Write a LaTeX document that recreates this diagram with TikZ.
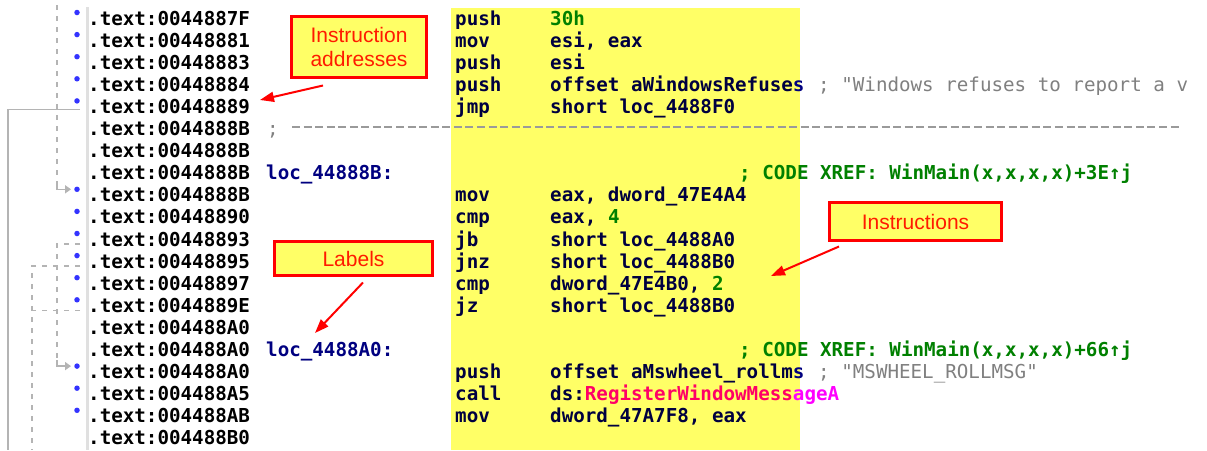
\documentclass[tikz,border=0pt]{standalone}
\usepackage{fontspec}
\setmainfont{Liberation Sans}
\setmonofont{DejaVu Sans Mono}
\usetikzlibrary{arrows.meta}
\definecolor{hl}{HTML}{FFFF66}
\definecolor{navy}{HTML}{000080}
\definecolor{navyd}{HTML}{000040}
\definecolor{idagreen}{HTML}{008000}
\definecolor{idagray}{HTML}{808080}
\definecolor{bulletc}{HTML}{3333FF}
\definecolor{linec}{HTML}{B4B4B4}
\definecolor{sepc}{HTML}{E0E0E0}
\definecolor{magin}{HTML}{FF0066}
\definecolor{magout}{HTML}{FF00FF}
\definecolor{calltext}{HTML}{FF1A00}
\definecolor{sepdash}{HTML}{9A9A9A}
\begin{document}
\begin{tikzpicture}[x=1pt,y=-1pt,
  code/.style={anchor=base west,inner sep=0pt,font=\ttfamily\bfseries\fontsize{19.2}{22}\selectfont},
  addr/.style={code,text=black},
  lbl/.style={code,text=navy},
  ins/.style={code,text=navyd},
  xref/.style={code,text=idagreen},
  strc/.style={code,text=idagray,font=\ttfamily\fontsize{19.2}{22}\selectfont},
  dot/.style={circle,fill=bulletc,inner sep=0pt,minimum size=5.5pt},
  jline/.style={linec,line width=1.6pt},
  jdash/.style={jline,dash pattern=on 5pt off 6pt},
  jtip/.style={-{Triangle[length=6pt,width=8pt]}},
  callout/.style={draw=red,line width=3pt,fill=hl,text=calltext,inner sep=0pt,align=center,font=\fontsize{21}{24}\selectfont},
  pointer/.style={red,line width=2pt,-{Triangle[length=14pt,width=10pt]}}
]
\useasboundingbox (0,0) rectangle (1207,450);
% highlight band
\fill[hl] (451,8) rectangle (800,450);
% separator
\draw[sepc,line width=3pt] (87.5,7) -- (87.5,450);

% bullets
\node[dot] (d1) at (77,12.5) {};
\node[dot] (d2) at (77,34.6) {};
\node[dot] (d3) at (77,56.7) {};
\node[dot] (d4) at (77,78.8) {};
\node[dot] (d5) at (77,100.9) {};
\node[dot] (d9) at (77,189.3) {};
\node[dot] (d10) at (77,211.4) {};
\node[dot] (d11) at (77,233.5) {};
\node[dot] (d12) at (77,255.6) {};
\node[dot] (d13) at (77,277.7) {};
\node[dot] (d14) at (77,299.8) {};
\node[dot] (d17) at (77,366.1) {};
\node[dot] (d18) at (77,388.2) {};
\node[dot] (d19) at (77,410.3) {};

% jump arrows in the margin
\coordinate (j5) at (80,109.4);
\coordinate (j5c) at (8,109.4);
\coordinate (j5e) at (8,450);
\draw[jline] (j5) -- (j5c) -- (j5e);

\coordinate (t9) at (57,5);
\coordinate (t9b) at (57,184);
\coordinate (t9c) at (57,189.3);
\draw[jdash] (t9) -- (t9b);
\draw[jline,jtip] (t9b) -- (t9c) -- ([xshift=-3pt]d9.west);

\coordinate (j11) at (80,244);
\coordinate (j11c) at (57,244);
\coordinate (j11b) at (57,360);
\coordinate (j11d) at (57,366.1);
\draw[jdash] (j11) -- (j11c) -- (j11b);
\draw[jline,jtip] (j11b) -- (j11d) -- ([xshift=-3pt]d17.west);

\coordinate (j12) at (80,266);
\coordinate (j12c) at (32,266);
\coordinate (j12e) at (32,450);
\draw[jdash] (j12) -- (j12c) -- (j12e);

\coordinate (j14) at (80,310.3);
\coordinate (j14c) at (32,310.3);
\draw[jdash] (j14) -- (j14c);

% addresses
\node[addr] (a1) at (88,25.0) {.text:0044887F};
\node[addr] (a2) at (88,47.1) {.text:00448881};
\node[addr] (a3) at (88,69.2) {.text:00448883};
\node[addr] (a4) at (88,91.3) {.text:00448884};
\node[addr] (a5) at (88,113.4) {.text:00448889};
\node[addr] (a6) at (88,135.5) {.text:0044888B};
\node[addr] (a7) at (88,157.6) {.text:0044888B};
\node[addr] (a8) at (88,179.7) {.text:0044888B};
\node[addr] (a9) at (88,201.8) {.text:0044888B};
\node[addr] (a10) at (88,223.9) {.text:00448890};
\node[addr] (a11) at (88,246.0) {.text:00448893};
\node[addr] (a12) at (88,268.1) {.text:00448895};
\node[addr] (a13) at (88,290.2) {.text:00448897};
\node[addr] (a14) at (88,312.3) {.text:0044889E};
\node[addr] (a15) at (88,334.4) {.text:004488A0};
\node[addr] (a16) at (88,356.5) {.text:004488A0};
\node[addr] (a17) at (88,378.6) {.text:004488A0};
\node[addr] (a18) at (88,400.7) {.text:004488A5};
\node[addr] (a19) at (88,422.8) {.text:004488AB};
\node[addr] (a20) at (88,444.9) {.text:004488B0};

% separator line
\node[strc] (s6) at (267,135.5) {;};
\coordinate (sep0) at (292,126.7);
\coordinate (sep1) at (1180,126.7);
\draw[sepdash,line width=1.6pt,dash pattern=on 8pt off 3.56pt] (sep0) -- (sep1);

% labels
\node[lbl] (l8) at (266,179.7) {loc\_44888B:};
\node[lbl] (l16) at (266,356.5) {loc\_4488A0:};

% mnemonics
\node[ins] (m1) at (455,25.0) {push};
\node[ins] (m2) at (455,47.1) {mov};
\node[ins] (m3) at (455,69.2) {push};
\node[ins] (m4) at (455,91.3) {push};
\node[ins] (m5) at (455,113.4) {jmp};
\node[ins] (m9) at (455,201.8) {mov};
\node[ins] (m10) at (455,223.9) {cmp};
\node[ins] (m11) at (455,246.0) {jb};
\node[ins] (m12) at (455,268.1) {jnz};
\node[ins] (m13) at (455,290.2) {cmp};
\node[ins] (m14) at (455,312.3) {jz};
\node[ins] (m17) at (455,378.6) {push};
\node[ins] (m18) at (455,400.7) {call};
\node[ins] (m19) at (455,422.8) {mov};

% operands
\node[ins] (o1) at (550,25.0) {\textcolor{idagreen}{30h}};
\node[ins] (o2) at (550,47.1) {esi, eax};
\node[ins] (o3) at (550,69.2) {esi};
\node[ins] (o4) at (550,91.3) {offset aWindowsRefuse\textcolor{navy}{s}};
\node[ins] (o5) at (550,113.4) {short loc\_4488F0};
\node[ins] (o9) at (550,201.8) {eax, dword\_47E4A4};
\node[ins] (o10) at (550,223.9) {eax, \textcolor{idagreen}{4}};
\node[ins] (o11) at (550,246.0) {short loc\_4488A0};
\node[ins] (o12) at (550,268.1) {short loc\_4488B0};
\node[ins] (o13) at (550,290.2) {dword\_47E4B0, \textcolor{idagreen}{2}};
\node[ins] (o14) at (550,312.3) {short loc\_4488B0};
\node[ins] (o17) at (550,378.6) {offset aMswheel\_rollm\textcolor{navy}{s}};
\node[ins] (o18) at (550,400.7) {ds:\textcolor{magin}{RegisterWindowMess}\textcolor{magout}{ageA}};
\node[ins] (o19) at (550,422.8) {dword\_47A7F8, eax};

% comments
\node[strc] (c4) at (818,91.3) {; "Windows refuses to report a v};
\node[strc] (c17) at (818,378.6) {; "MSWHEEL\_ROLLMSG"};
\node[xref] (x8) at (739,179.7) {; CODE XREF: WinMain(x,x,x,x)+3E↑j};
\node[xref] (x16) at (739,356.5) {; CODE XREF: WinMain(x,x,x,x)+66↑j};

% callouts
\node[callout,minimum width=135pt,minimum height=61pt] (cA) at (359,47) {Instruction\\addresses};
\node[callout,minimum width=158pt,minimum height=34pt] (cL) at (353.5,258.5) {Labels};
\node[callout,minimum width=172pt,minimum height=38pt] (cI) at (915.5,221.5) {Instructions};

\coordinate (pA) at ([shift={(-36,6.5)}]cA.south);
\coordinate (qA) at (260,100);
\draw[pointer] (pA) -- (qA);
\coordinate (pL) at ([shift={(9.5,5.5)}]cL.south);
\coordinate (qL) at (315,333);
\draw[pointer] (pL) -- (qL);
\coordinate (pI) at ([shift={(-76.5,4.5)}]cI.south);
\coordinate (qI) at (771,276);
\draw[pointer] (pI) -- (qI);
\end{tikzpicture}
\end{document}
